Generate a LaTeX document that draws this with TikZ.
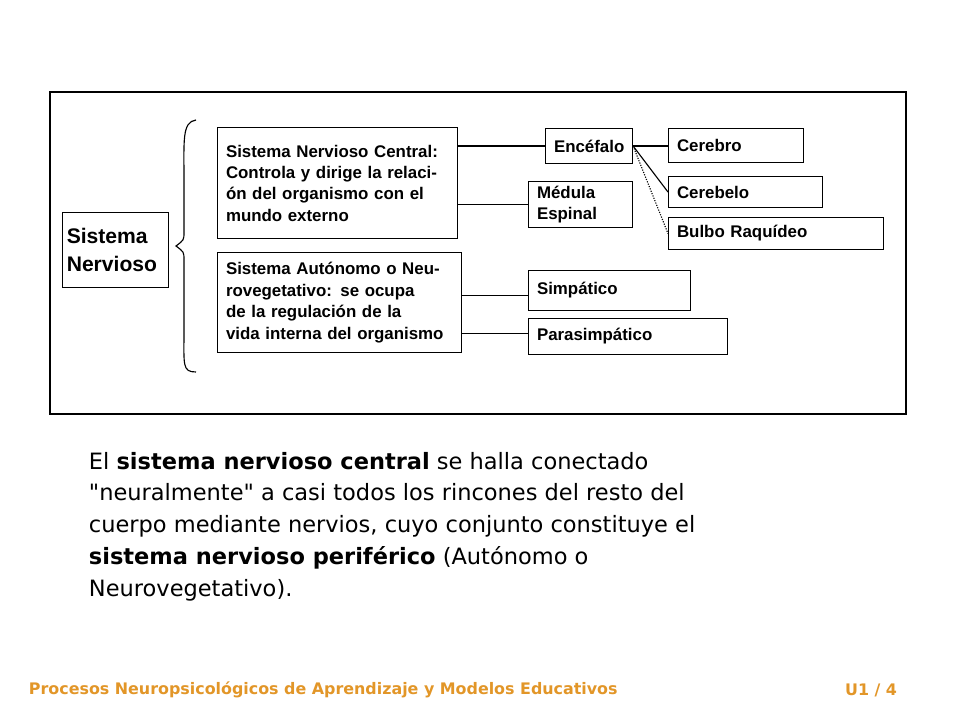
\documentclass[tikz,border=0pt]{standalone}
\usepackage{fontspec}
\setmainfont{DejaVu Sans}
\newfontfamily\arialfont{Liberation Sans}
\definecolor{footorange}{RGB}{226,150,40}

\begin{document}
\begin{tikzpicture}[x=0.025cm,y=-0.025cm,
  box/.style={draw,thick,anchor=north west,inner xsep=6pt,inner ysep=3pt,align=left,
    text width=#1*0.025cm-12pt,
    font=\arialfont\bfseries\fontsize{12}{15.2}\selectfont},
  link/.style={draw,thin}]
\useasboundingbox (0,0) rectangle (960,720);
\draw[line width=1.6pt] (50,92) rectangle (906,414);

\node[box=106,minimum height=75*0.025cm,inner xsep=3pt,text width=106*0.025cm-6pt,
  font=\arialfont\bfseries\fontsize{15}{20}\selectfont] (sn) at (62,212) {Sistema\\Nervioso};
\draw[thick] (196,120) .. controls (182,122) and (184,140) .. (184,180)
  -- (184,232) .. controls (184,240) .. (176,246)
  .. controls (184,252) .. (184,260) -- (184,330)
  .. controls (184,365) and (182,372) .. (196,372);

\node[box=240,minimum height=111*0.025cm] (snc) at (217,127)
  {Sistema Nervioso Central:\\Controla y dirige la relaci-\\ón del organismo con el\\mundo externo};
\node[box=244,minimum height=100*0.025cm] (sna) at (217,252)
  {Sistema Autónomo o Neu-\\rovegetativo: se ocupa\\de la regulación de la\\vida interna del organismo};

\node[box=87,minimum height=35*0.025cm] (enc) at (545,128) {Encéfalo};
\node[box=104,minimum height=39*0.025cm] (med) at (528,181) {Médula\\Espinal};
\node[box=135,minimum height=34*0.025cm] (cer) at (668,128) {Cerebro};
\node[box=154,minimum height=31*0.025cm] (cbl) at (668,176) {Cerebelo};
\node[box=215,minimum height=32*0.025cm] (bul) at (668,217) {Bulbo Raquídeo};
\node[box=162,minimum height=40*0.025cm] (sim) at (528,270) {Simpático};
\node[box=199,minimum height=36*0.025cm] (par) at (528,318) {Parasimpático};

\draw[thick] (snc.east|-enc.west) -- (enc.west);
\draw[thick] (snc.east|-med.west) -- (med.west);
\draw[link] (sna.east|-0,295) -- (sim.west|-0,295);
\draw[link] (sna.east|-0,333) -- (par.west|-0,333);
\draw[thick] (enc.east) -- (cer.west|-enc.east);
\draw[thick] (enc.east) -- (cbl.west);
\draw[densely dotted,thick] (enc.east) -- (bul.west);

\node[anchor=north west,align=left,font=\fontsize{16}{22.7}\selectfont] (txt) at (84,447)
  {El \textbf{sistema nervioso central} se halla conectado\\
  \textquotedbl neuralmente\textquotedbl{} a casi todos los rincones del resto del\\
  cuerpo mediante nervios, cuyo conjunto constituye el\\
  \textbf{sistema nervioso periférico} (Autónomo o\\
  Neurovegetativo).};

\node[anchor=west,text=footorange,font=\bfseries\fontsize{11.3}{13}\selectfont] (foot) at (24,690)
  {Procesos Neuropsicológicos de Aprendizaje y Modelos Educativos};
\node[anchor=east,text=footorange,font=\bfseries\fontsize{11.3}{13}\selectfont] (page) at (902,690) {U1 / 4};
\end{tikzpicture}
\end{document}
